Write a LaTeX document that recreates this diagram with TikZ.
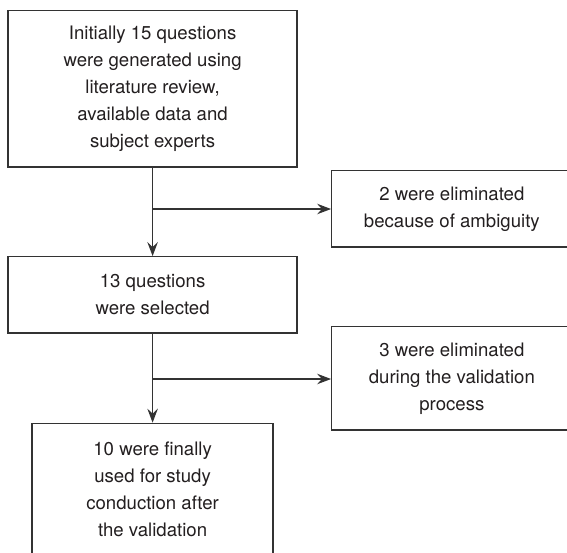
\documentclass[tikz,border=0pt]{standalone}
\usepackage{fontspec}
\setmainfont{TeX Gyre Heros}
\usetikzlibrary{arrows.meta}
\definecolor{linec}{HTML}{333333}
\definecolor{textc}{HTML}{231F20}
\begin{document}
\begin{tikzpicture}[x=1pt,y=-1pt,
  box/.style={draw=linec,line width=1.25pt,fill=white,inner sep=0pt,align=center,
    text=textc,font=\fontsize{18.6}{27}\selectfont},
  arr/.style={draw=linec,line width=1.25pt,-{Stealth[length=14pt,width=10.5pt,inset=5pt]}},
  ln/.style={draw=linec,line width=1.25pt}]
\useasboundingbox (0,0) rectangle (567,552);
\fill[white] (0,0) rectangle (567,552);
\clip (0,0) rectangle (567,552);
\node[box,minimum width=289pt,minimum height=156.3pt] (b1) at (152.6,88.85)
  {Initially 15 questions\\were generated using\\literature review,\\available data and\\subject experts};
\node[box,minimum width=240.3pt,minimum height=76.3pt] (b2) at (451.85,208.85)
  {2 were eliminated\\because of ambiguity};
\node[box,minimum width=289pt,minimum height=76.3pt] (b3) at (152.6,294.85)
  {13 questions\\were selected};
\node[box,minimum width=240.3pt,minimum height=103.3pt] (b4) at (451.85,378.35)
  {3 were eliminated\\during the validation\\process};
\node[box,minimum width=241pt,minimum height=132pt] (b5) at (152.6,489.3)
  {10 were finally\\used for study\\conduction after\\the validation};
\coordinate (j1) at (152.6,209);
\coordinate (j2) at (152.6,379);
\draw[arr] (b1.south) -- (b3.north);
\draw[arr] (j1) -- (j1 -| b2.west);
\draw[arr] (b3.south) -- (b5.north);
\draw[arr] (j2) -- (j2 -| b4.west);
\end{tikzpicture}
\end{document}
